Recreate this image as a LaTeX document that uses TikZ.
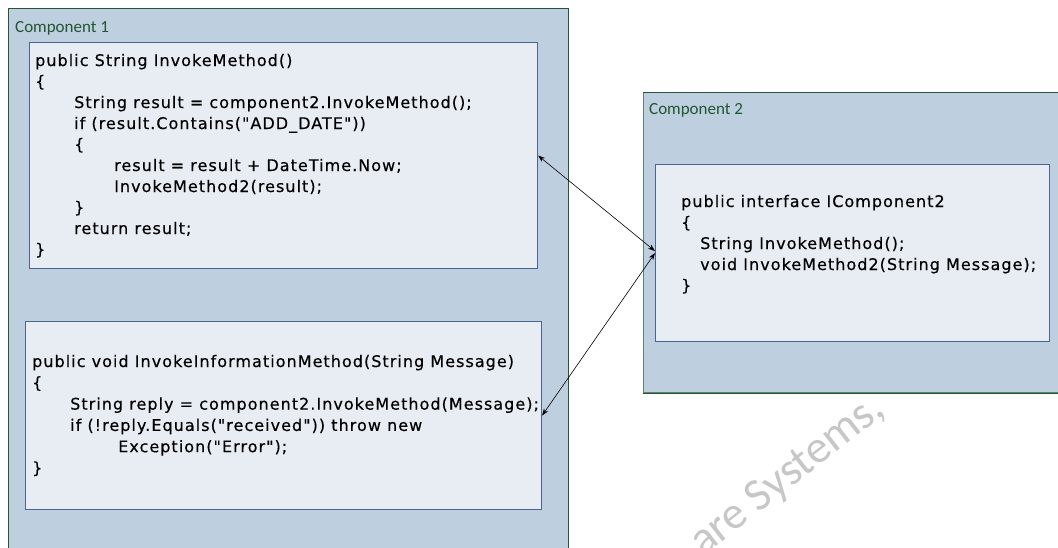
\documentclass[tikz,border=0pt]{standalone}
\usepackage{fontspec}
\usetikzlibrary{arrows.meta}
\newfontfamily\codefont[LetterSpace=6.5,FakeBold=0.35]{DejaVu Sans}
\newfontfamily\labfont{Carlito}
\definecolor{outerfill}{RGB}{190,207,224}
\definecolor{innerfill}{RGB}{232,237,244}
\definecolor{innerline}{RGB}{75,100,145}
\definecolor{outerline}{RGB}{40,85,55}
\definecolor{outerlineb}{RGB}{95,130,110}
\definecolor{labcol}{RGB}{35,85,50}
\newcommand{\cl}[2]{\hbox{\hskip #1pt #2}}
\tikzset{
  outerbox/.style={draw=outerline, fill=outerfill, line width=1pt, inner sep=0pt, anchor=north west},
  innerbox/.style={draw=innerline, fill=innerfill, line width=1.1pt, inner sep=0pt, anchor=north west},
  code/.style={anchor=base west, inner sep=0pt, font=\codefont\fontsize{16}{21}\selectfont, text=black},
  lab/.style={anchor=base west, inner sep=0pt, font=\labfont\fontsize{17}{20}\selectfont, text=labcol},
  arr/.style={{Stealth[length=7pt,width=5pt]}-{Stealth[length=7pt,width=5pt]}, line width=0.6pt, black},
  wm/.style={font=\labfont\fontsize{46}{50}\selectfont, text=black!22, rotate=38, inner sep=0pt}
}
\begin{document}
\begin{tikzpicture}[x=1pt,y=-1pt]
\useasboundingbox (0,0) rectangle (1058,547);
\clip (0,0) rectangle (1058,547);
\fill[white] (0,0) rectangle (1058,547);
% Component 1
\node[outerbox, minimum width=560pt, minimum height=560pt] (c1) at (8,8) {};
\node[lab] (l1) at (15,32) {Component 1};
\node[innerbox, minimum width=508pt, minimum height=226pt] (b1) at (29,42) {};
\node[code] (t1) at (35,66) {\vtop{\baselineskip=21pt
  \cl{0}{public String InvokeMethod()}
  \cl{0}{\{}
  \cl{39}{String result = component2.InvokeMethod();}
  \cl{39}{if (result.Contains("ADD\_DATE"))}
  \cl{39}{\{}
  \cl{79}{result = result + DateTime.Now;}
  \cl{79}{InvokeMethod2(result);}
  \cl{39}{\}}
  \cl{39}{return result;}
  \cl{0}{\}}}};
\node[innerbox, minimum width=516pt, minimum height=188pt] (b3) at (25,321) {};
\node[code] (t3) at (32,367) {\vtop{\baselineskip=21.3pt
  \cl{0}{public void InvokeInformationMethod(String Message)}
  \cl{0}{\{}
  \cl{38}{String reply = component2.InvokeMethod(Message);}
  \cl{38}{if (!reply.Equals("received")) throw new}
  \cl{86}{Exception("Error");}
  \cl{0}{\}}}};
% watermark
\node[wm] (wm) at (788,476) {are Systems,};
% Component 2
\node[outerbox, draw=outerlineb, minimum width=430pt, minimum height=300pt] (c2) at (643,92) {};
\draw[outerline, line width=1pt] (c2.north west) -- (c2.north east);
\draw[outerline, line width=1pt] (c2.south west) -- (c2.south east);
\node[lab] (l2) at (649,114) {Component 2};
\node[innerbox, minimum width=394pt, minimum height=177pt] (b2) at (655,164) {};
\node[code] (t2) at (681,207) {\vtop{\baselineskip=21pt
  \cl{0}{public interface IComponent2}
  \cl{0}{\{}
  \cl{19}{String InvokeMethod();}
  \cl{19}{void InvokeMethod2(String Message);}
  \cl{0}{\}}}};
% connectors
\draw[arr] (b1.east) -- ([yshift=2pt]b2.west);
\draw[arr] (b3.east) -- (b2.west);
\end{tikzpicture}
\end{document}
